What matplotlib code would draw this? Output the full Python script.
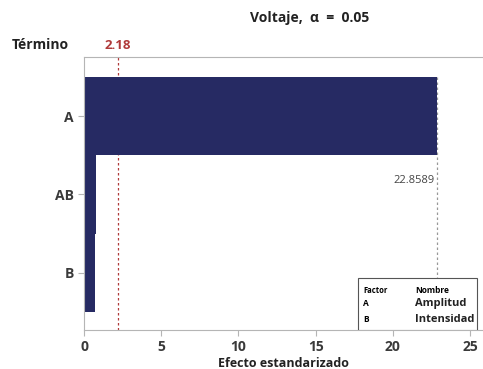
import matplotlib
matplotlib.use("Agg")

import matplotlib.pyplot as plt
from matplotlib.patches import Rectangle

terms = ["A", "AB", "B"]
effects = [22.8589, 0.80, 0.72]
critical = 2.18
factors = ["A", "B"]
names = ["Amplitud", "Intensidad"]
xticks = [0, 5, 10, 15, 20, 25]

navy = "#262a63"
grey = "#b5b5b5"
red = "#b03a3a"

plt.rcParams["font.family"] = ["Open Sans", "DejaVu Sans"]

fig = plt.figure(figsize=(4.83, 3.69), dpi=100)
ax = fig.add_axes([0.174, 0.106, 0.826, 0.740])

pos = list(range(len(terms)))
ax.barh(pos, effects, height=1.0, color=navy, zorder=2)

ax.set_ylim(2.73, -0.756)
ax.set_xlim(0, 25.84)
ax.set_yticks(pos)
ax.set_yticklabels(terms, fontsize=10, fontweight="bold", color="#3a3a3a")
ax.set_xticks(xticks)
ax.set_xticklabels([str(t) for t in xticks], fontsize=10, fontweight="bold", color="#3a3a3a")
ax.tick_params(axis="both", length=4, color=grey, width=0.8)

for side in ["left", "bottom", "top"]:
    ax.spines[side].set_color(grey)
    ax.spines[side].set_linewidth(0.8)
ax.spines["right"].set_visible(False)

# reference lines
ax.axvline(critical, color=red, linestyle=(0, (2, 2)), linewidth=0.9, zorder=1)
ax.text(critical, -0.82, f"{critical:.2f}", color=red, fontsize=9.5,
        fontweight="bold", ha="center", va="bottom")
ax.plot([effects[0], effects[0]], [-0.5, 2.73], color="#999999",
        linestyle=(0, (2, 2)), linewidth=0.9, zorder=1)
ax.text(effects[0] - 0.15, 0.82, f"{effects[0]:.4f}", color="#444444",
        fontsize=8, ha="right", va="center")

# factor legend box
ax.add_patch(Rectangle((0.687, 0.0), 0.298, 0.19, transform=ax.transAxes,
                       facecolor="white", edgecolor="#555555", linewidth=0.8,
                       zorder=5))
ax.text(0.70, 0.145, "Factor", transform=ax.transAxes, fontsize=5.5,
        fontweight="bold", va="center", zorder=6)
ax.text(0.83, 0.145, "Nombre", transform=ax.transAxes, fontsize=6,
        fontweight="bold", va="center", zorder=6)
for i, (f, n) in enumerate(zip(factors, names)):
    yy = 0.095 - i * 0.058
    ax.text(0.70, yy, f, transform=ax.transAxes, fontsize=6,
            fontweight="bold", va="center", zorder=6)
    ax.text(0.83, yy, n, transform=ax.transAxes, fontsize=8,
            fontweight="bold", va="center", color="#222222", zorder=6)

fig.text(0.642, 0.951, "Voltaje,  α  =  0.05", fontsize=10, fontweight="bold",
         ha="center", va="center", color="#222222")
fig.text(0.083, 0.878, "Término", fontsize=10, fontweight="bold",
         ha="center", va="center", color="#222222")
ax.set_xlabel("Efecto estandarizado", fontsize=9, fontweight="bold",
              color="#222222", labelpad=2)

fig.savefig("out.png", dpi=100)
plt.close(fig)
